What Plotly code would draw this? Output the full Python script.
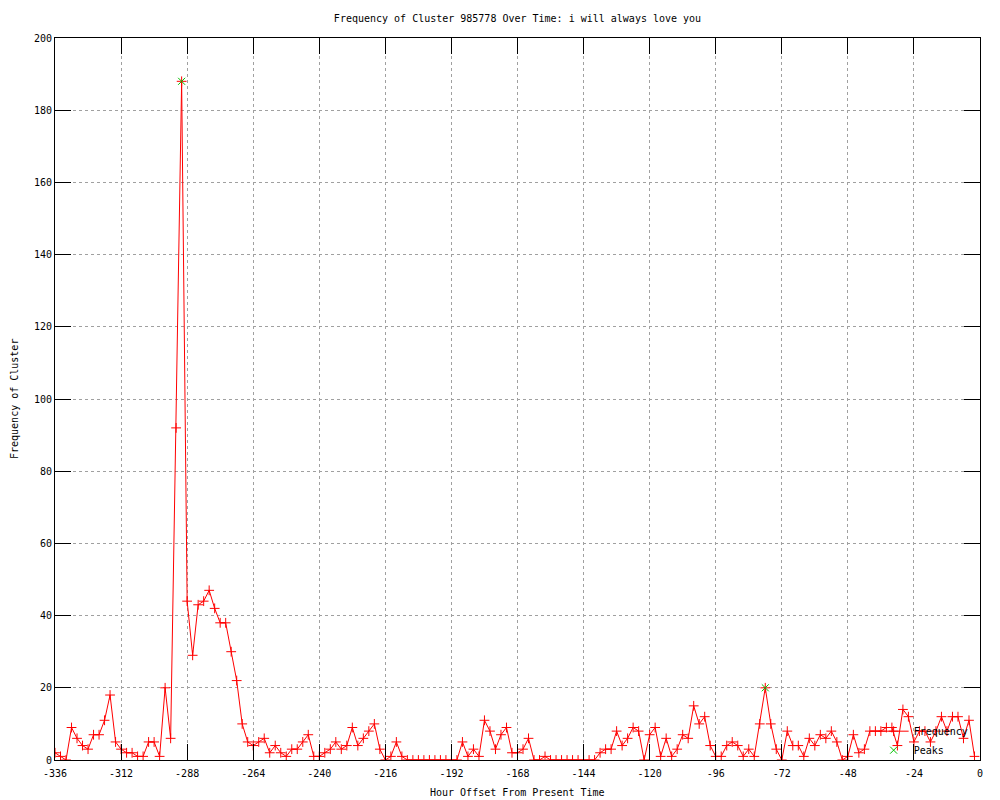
import plotly.graph_objects as go

# Hour offsets (every 2 hours) and frequency values
hours = list(range(-336, 0, 2))
frequency = [
    2, 1, 0, 9, 6, 4, 3, 7, 7, 11,
    18, 5, 3, 2, 2, 1, 1, 5, 5, 1,
    20, 6, 92, 188, 44, 29, 43, 44, 47, 42,
    38, 38, 30, 22, 10, 5, 4, 5, 6, 2,
    4, 2, 1, 3, 3, 5, 7, 1, 1, 2,
    3, 5, 3, 4, 9, 4, 6, 8, 10, 3,
    0, 1, 5, 1, 0, 0, 0, 0, 0, 0,
    0, 0, 0, 0, 5, 1, 3, 1, 11, 8,
    3, 7, 9, 2, 2, 3, 6, 0, 0, 1,
    0, 0, 0, 0, 0, 0, 0, 0, 0, 2,
    3, 3, 8, 4, 6, 9, 8, 0, 7, 9,
    1, 6, 1, 3, 7, 6, 15, 10, 12, 4,
    1, 1, 4, 5, 4, 1, 3, 1, 10, 20,
    10, 3, 0, 8, 4, 4, 1, 6, 4, 7,
    6, 8, 5, 0, 1, 7, 2, 3, 8, 8,
    8, 9, 9, 4, 14, 12, 5, 8, 8, 5,
    8, 12, 8, 12, 12, 6, 11, 1,
]

peak_hours = [-290, -78]
peak_values = [188, 20]

x_ticks = list(range(-336, 1, 24))
y_ticks = list(range(0, 201, 20))

FONT = "DejaVu Sans Mono"

fig = go.Figure()
fig.add_trace(go.Scatter(
    x=hours, y=frequency, name="Frequency",
    mode="lines+markers",
    line=dict(color="#ff0000", width=1),
    marker=dict(symbol="cross-thin", size=7, color="#ff0000",
                line=dict(color="#ff0000", width=1)),
))
fig.add_trace(go.Scatter(
    x=peak_hours, y=peak_values, name="Peaks",
    mode="markers",
    marker=dict(symbol="x-thin", size=7, color="#00c000",
                line=dict(color="#00c000", width=1)),
))

axis_common = dict(
    showline=True, linecolor="black", linewidth=1, mirror="ticks",
    ticks="inside", ticklen=16, tickwidth=1, tickcolor="black",
    showgrid=True, gridcolor="#a0a0a0", griddash="dot", gridwidth=1,
    zeroline=False, tickfont=dict(family=FONT, size=10, color="black"),
)

fig.update_xaxes(range=[-336, 0], tickvals=x_ticks,
                 ticktext=[str(v) for v in x_ticks], ticklabelstandoff=4,
                 **axis_common)
fig.update_yaxes(range=[0, 200], tickvals=y_ticks,
                 ticktext=[str(v) for v in y_ticks], **axis_common)

fig.update_layout(
    width=992, height=792,
    margin=dict(l=47, r=20, t=30, b=40),
    paper_bgcolor="white", plot_bgcolor="white",
    font=dict(family=FONT, size=10, color="black"),
    title=dict(text="Frequency of Cluster 985778 Over Time: i will always love you",
               x=(517.5 - 8) / 992, xanchor="center", y=1 - 10 / 792, yanchor="middle",
               font=dict(family=FONT, size=10, color="black")),
    showlegend=True,
    legend=dict(x=0.885, y=0.06, xanchor="left", yanchor="top",
                bgcolor="rgba(0,0,0,0)", borderwidth=0,
                font=dict(family=FONT, size=10, color="black"),
                itemwidth=30, tracegroupgap=0),
    annotations=[
        dict(text="Hour Offset From Present Time", xref="paper", yref="paper",
             x=0.5, y=0, yshift=-32, xanchor="center", yanchor="middle",
             showarrow=False, font=dict(family=FONT, size=10, color="black")),
        dict(text="Frequency of Cluster", xref="paper", yref="paper",
             x=0, y=0.5, xshift=-41, xanchor="center", yanchor="middle",
             textangle=-90, showarrow=False,
             font=dict(family=FONT, size=10, color="black")),
    ],
)

fig.write_html("out.html")
